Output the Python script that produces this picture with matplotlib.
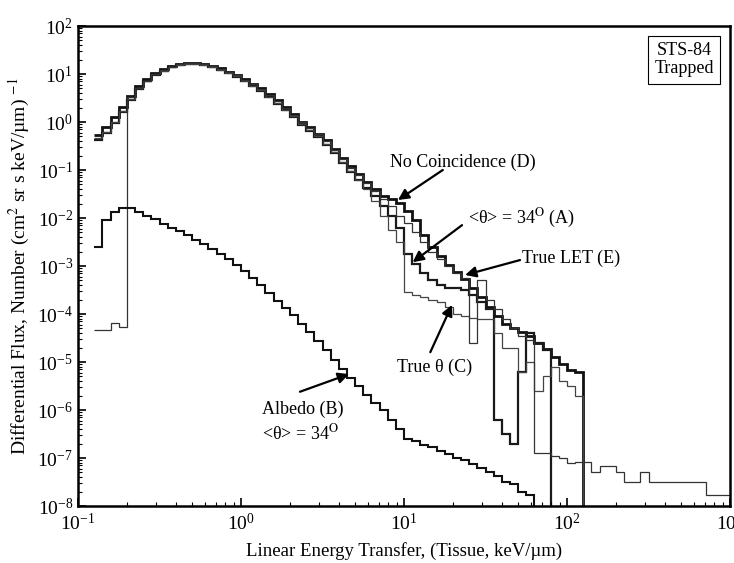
import numpy as np
import matplotlib.pyplot as plt
from matplotlib.ticker import LogLocator, NullFormatter, LogFormatterSciNotation

plt.rcParams['font.family'] = ['Liberation Serif', 'DejaVu Serif']
plt.rcParams['mathtext.fontset'] = 'stix'

# histogram bins: 0.05 decade wide, starting at LET = 10^-0.9
bin_start = -0.9
bin_step = 0.05

# log10 of differential flux per bin (-9 = empty bin, below the axis)
no_coinc_D = [-0.28, -0.1, 0.1, 0.32, 0.55, 0.75, 0.9, 1.02, 1.1, 1.16, 1.21, 1.23, 1.22, 1.2, 1.17,
              1.12, 1.05, 0.98, 0.9, 0.8, 0.7, 0.58, 0.45, 0.31, 0.17, 0.01, -0.11, -0.24, -0.38, -0.56,
              -0.75, -0.92, -1.08, -1.25, -1.4,
              -1.55, -1.6, -1.68, -1.85, -2.05, -2.35, -2.6, -2.8, -2.97, -3.12, -3.28, -3.45, -3.65,
              -3.85, -4.05, -4.2, -4.3, -4.38, -4.45, -4.6, -4.72, -4.9, -5.05, -5.17, -5.2, -9]

theta34_A = [-0.38, -0.22, -0.02, 0.2, 0.45, 0.68, 0.85, 0.98, 1.07, 1.14, 1.19, 1.21, 1.21, 1.19, 1.15,
             1.09, 1.02, 0.94, 0.85, 0.75, 0.64, 0.52, 0.38, 0.24, 0.1, -0.06, -0.18, -0.31, -0.47, -0.65,
             -0.86, -1.04, -1.2, -1.38, -1.55,
             -1.75, -1.95, -2.2, -2.75, -2.95, -3.15, -3.3, -3.4, -3.45, -3.45, -3.5, -3.6, -3.75, -3.9,
             -6.2, -6.5, -6.7, -5.2, -4.4, -4.6, -4.75, -9]

true_theta_C = [-0.33, -0.2, 0.0, 0.22, 0.47, 0.7, 0.86, 0.99, 1.07, 1.14, 1.19, 1.21, 1.21, 1.19, 1.15,
                1.09, 1.02, 0.95, 0.86, 0.76, 0.66, 0.53, 0.4, 0.26, 0.12, -0.04, -0.16, -0.3, -0.45, -0.63,
                -0.84, -1.02, -1.2, -1.4, -1.65,
                -1.95, -2.25, -2.5, -3.55, -3.6, -3.65, -3.7, -3.75, -3.85, -4.0, -4.05, -4.08, -4.1, -4.1,
                -4.4, -4.7, -4.7, -5.2, -5.0, -5.6, -5.3, -5.1, -5.4, -5.5, -5.7, -9]

true_let_E = [-4.33, -4.33, -4.19, -4.27,
              0.52, 0.7, 0.86, 0.99, 1.08, 1.15, 1.2, 1.22, 1.23, 1.21, 1.17, 1.11, 1.04, 0.97, 0.88,
              0.79, 0.69, 0.56, 0.43, 0.29, 0.15, 0.0, -0.12, -0.25, -0.4, -0.58, -0.78, -0.95, -1.1,
              -1.27, -1.43,
              -1.6, -1.75, -1.95, -2.1, -2.3, -2.5, -2.7, -2.85, -3.0, -3.15, -3.25, -4.6, -3.3, -3.7,
              -3.9, -4.1, -4.3, -4.45, -4.55, -6.9, -6.9, -6.95, -7.0, -7.1, -7.08, -7.08, -7.3, -7.17,
              -7.17, -7.3, -7.5, -7.5, -7.3, -7.5, -7.5, -7.5, -7.5, -7.5, -7.5, -7.5, -7.77, -7.77, -7.77]

albedo_B = [-2.6, -2.04, -1.87, -1.79, -1.8, -1.87, -1.95, -2.03, -2.12, -2.2, -2.28, -2.36, -2.45,
            -2.54, -2.64, -2.74, -2.85, -2.97, -3.1, -3.25, -3.4, -3.56, -3.72, -3.88, -4.03, -4.2,
            -4.38, -4.56, -4.75, -4.95, -5.15, -5.33, -5.5, -5.68, -5.85, -6.0, -6.2, -6.4, -6.6,
            -6.65, -6.72, -6.78, -6.85, -6.92, -7.0, -7.05, -7.12, -7.2, -7.3, -7.38, -7.5, -7.55,
            -7.7, -7.77, -9]

curves = [
    (no_coinc_D, 2.0, '#111111'),
    (theta34_A, 1.6, '#1a1a1a'),
    (true_theta_C, 0.9, '#444444'),
    (true_let_E, 0.9, '#333333'),
    (albedo_B, 1.5, '#111111'),
]

fig = plt.figure(figsize=(7.34, 5.63), dpi=100)
ax = fig.add_axes([78 / 734, 1 - 506 / 563, 652 / 734, 480 / 563])

for vals, lw, col in curves:
    n = len(vals)
    edges = 10 ** (bin_start + bin_step * np.arange(n + 1))
    ax.stairs(10 ** np.array(vals, dtype=float), edges, baseline=None, lw=lw, color=col)

ax.set_xscale('log')
ax.set_yscale('log')
ax.set_xlim(0.1, 1000)
ax.set_ylim(1e-8, 1e2)

for axis in (ax.xaxis, ax.yaxis):
    axis.set_major_locator(LogLocator(base=10, numticks=20))
    axis.set_minor_locator(LogLocator(base=10, subs=np.arange(2, 10), numticks=20))
    axis.set_minor_formatter(NullFormatter())
    axis.set_major_formatter(LogFormatterSciNotation())
ax.tick_params(which='both', direction='in', top=False, right=False, labelsize=14)
ax.tick_params(which='major', length=6, width=1.2)
ax.tick_params(which='minor', length=3, width=0.8)
ax.tick_params(axis='x', pad=5)
for sp in ax.spines.values():
    sp.set_linewidth(1.8)

ax.set_xlabel('Linear Energy Transfer, (Tissue, keV/µm)', fontsize=13.5, labelpad=6)
ax.set_ylabel('Differential Flux, Number (cm$^2$ sr s keV/µm) $^{-1}$', fontsize=14, labelpad=4)

ax.text(0.93, 0.93, 'STS-84\nTrapped', transform=ax.transAxes, ha='center', va='center',
        fontsize=13, linespacing=1.1,
        bbox=dict(boxstyle='square,pad=0.35', fc='white', ec='black', lw=0.8))

arrow = dict(arrowstyle='-|>', color='black', lw=1.6, mutation_scale=16, shrinkA=0, shrinkB=0)
fs = 13
ax.annotate('No Coincidence (D)', xy=(8.2, 0.147), fontsize=fs, va='center', ha='left')
ax.annotate('', xy=(9.18, 0.0237), xytext=(17.3, 0.1), arrowprops=arrow)
ax.annotate('<θ> = 34$^{\\rm O}$ (A)', xy=(24.7, 0.01), fontsize=fs, va='center', ha='left')
ax.annotate('', xy=(11.3, 1.2e-3), xytext=(22.7, 7.1e-3), arrowprops=arrow)
ax.annotate('True LET (E)', xy=(53, 1.47e-3), fontsize=fs, va='center', ha='left')
ax.annotate('', xy=(23.7, 6.5e-4), xytext=(51.5, 1.33e-3), arrowprops=arrow)
ax.annotate('True θ (C)', xy=(26.1, 7.9e-6), fontsize=fs, va='center', ha='right')
ax.annotate('', xy=(19.7, 1.55e-4), xytext=(14.5, 1.6e-5), arrowprops=arrow)
ax.annotate('Albedo (B)\n<θ> = 34$^{\\rm O}$', xy=(1.35, 5.6e-7), fontsize=fs, va='center',
            ha='left', linespacing=1.3)
ax.annotate('', xy=(4.6, 5.6e-6), xytext=(2.3, 2.4e-6), arrowprops=arrow)

fig.savefig('out.png', dpi=100)
